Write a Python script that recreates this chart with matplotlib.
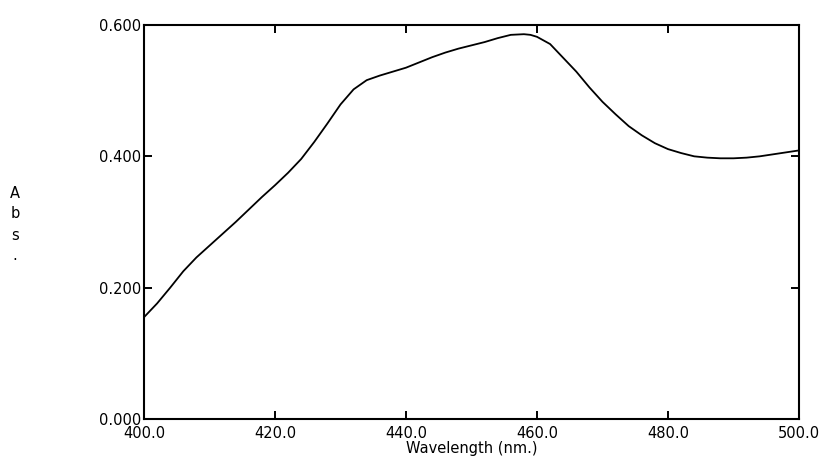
import matplotlib
matplotlib.use("Agg")
import matplotlib.pyplot as plt
import numpy as np

# spectrum
wavelength = [400, 402, 404, 406, 408, 410, 412, 414, 416, 418,
              420, 422, 424, 426, 428, 430, 432, 434, 436, 438,
              440, 442, 444, 446, 448, 450, 452, 454, 456, 458,
              459, 460, 462, 464, 466, 468, 470, 472, 474, 476, 478,
              480, 482, 484, 486, 488, 490, 492, 494, 496, 498, 500]
absorb = [0.155, 0.176, 0.200, 0.225, 0.246, 0.264, 0.282, 0.300, 0.319, 0.338,
          0.356, 0.375, 0.396, 0.422, 0.450, 0.479, 0.502, 0.516, 0.523, 0.529,
          0.535, 0.543, 0.551, 0.558, 0.564, 0.569, 0.574, 0.580, 0.585, 0.586,
          0.585, 0.582, 0.571, 0.550, 0.529, 0.505, 0.483, 0.464, 0.446, 0.432, 0.420,
          0.411, 0.405, 0.400, 0.398, 0.397, 0.397, 0.398, 0.400, 0.403, 0.406, 0.409]
xticks = [400, 420, 440, 460, 480, 500]
yticks = [0.0, 0.2, 0.4, 0.6]

fs = 10.5
fig = plt.figure(figsize=(8.21, 4.69), dpi=100)
ax = fig.add_axes([144/821, 1-419/469, 655/821, 394/469])

ax.plot(wavelength, absorb, color='black', lw=1.3)

ax.set_xlim(400, 500)
ax.set_ylim(0, 0.6)
ax.set_xticks(xticks)
ax.set_xticklabels(["%.1f" % v for v in xticks], fontsize=fs)
ax.set_yticks(yticks)
ax.set_yticklabels(["%.3f" % v for v in yticks], fontsize=fs)
ax.tick_params(direction='in', length=5.5, width=1.4, top=True, right=True)
ax.tick_params(axis='x', pad=5)
ax.tick_params(axis='y', pad=2)
for s in ax.spines.values():
    s.set_linewidth(1.5)

ax.set_xlabel("Wavelength (nm.)", fontsize=fs, labelpad=0)

# stacked y label
for i, ch in enumerate(["A", "b", "s", "."]):
    fig.text(15/821, 1-(193+21*i)/469, ch, fontsize=fs, ha='center', va='center')

fig.savefig("out.png", dpi=100)
